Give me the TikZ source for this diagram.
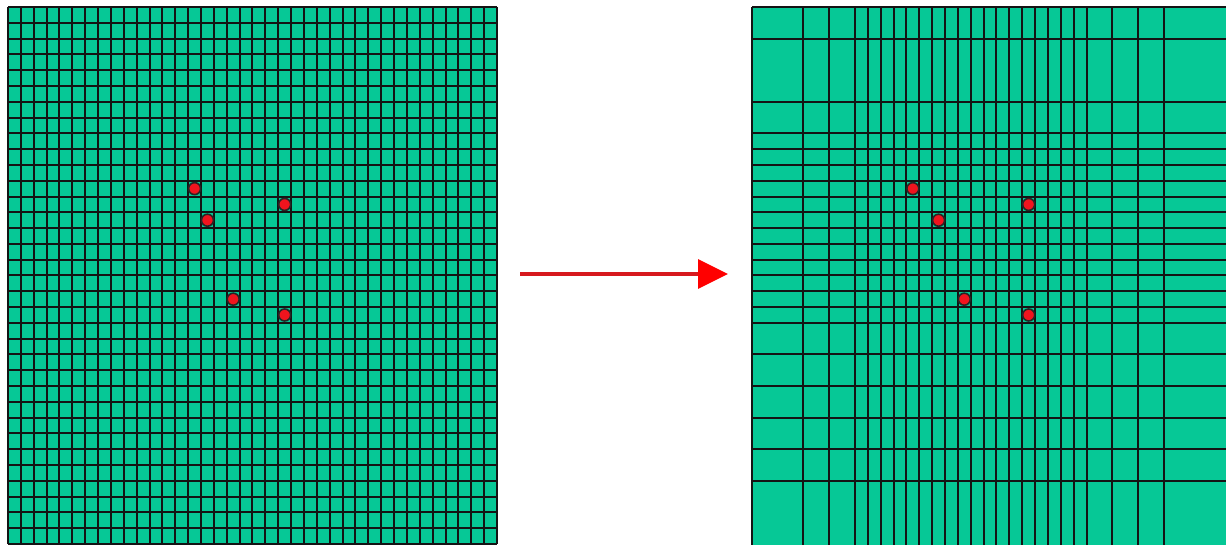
\documentclass[tikz,border=0pt]{standalone}
\usetikzlibrary{arrows.meta}
\definecolor{meshgreen}{RGB}{6,200,150}
\definecolor{arrowred}{RGB}{215,25,30}
\definecolor{dotred}{RGB}{240,20,30}
\tikzset{
  gridline/.style={line width=2pt, draw=black!92},
  meshfill/.style={fill=meshgreen},
  pointdot/.style={circle, fill=dotred, draw=black!85, line width=1.6pt, minimum size=12pt, inner sep=0pt},
  bigarrow/.style={draw=arrowred, line width=3.2pt, -{Triangle[length=30pt, width=29pt, fill=red, color=red]}}
}
\begin{document}
\begin{tikzpicture}[x=1pt, y=-1pt]
\useasboundingbox (0,0) rectangle (1226,545);
\fill[white] (0,0) rectangle (1226,545);
% ---------- left uniform mesh ----------
\fill[meshfill] (8,7) rectangle (497,544);
\foreach \k in {0,...,38} {
  \pgfmathsetmacro{\xx}{round(8+\k*12.868)}
  \draw[gridline] (\xx,7) -- (\xx,544);
}
\foreach \k in {0,...,34} {
  \pgfmathsetmacro{\yy}{round(7+\k*15.794)}
  \draw[gridline] (8,\yy) -- (497,\yy);
}
\node[pointdot] (l1) at ({8+14.5*12.868},{7+11.5*15.794}) {};
\node[pointdot] (l2) at ({8+15.5*12.868},{7+13.5*15.794}) {};
\node[pointdot] (l3) at ({8+21.5*12.868},{7+12.5*15.794}) {};
\node[pointdot] (l4) at ({8+17.5*12.868},{7+18.5*15.794}) {};
\node[pointdot] (l5) at ({8+21.5*12.868},{7+19.5*15.794}) {};
% ---------- right adapted mesh ----------
\begin{scope}
\clip (0,0) rectangle (1226,545);
\fill[meshfill] (752,7) rectangle (1241,550);
\foreach \k in {0,4,6,8,9,...,26,28,30,32,38} {
  \pgfmathsetmacro{\xx}{round(752+\k*12.868)}
  \draw[gridline] (\xx,7) -- (\xx,550);
}
\foreach \k in {0,2,6,8,9,...,20,22,24,26,28,30} {
  \pgfmathsetmacro{\yy}{round(7+\k*15.794)}
  \draw[gridline] (752,\yy) -- (1241,\yy);
}
\end{scope}
\node[pointdot] (r1) at ({752+12.5*12.868},{7+11.5*15.794}) {};
\node[pointdot] (r2) at ({752+14.5*12.868},{7+13.5*15.794}) {};
\node[pointdot] (r3) at ({752+21.5*12.868},{7+12.5*15.794}) {};
\node[pointdot] (r4) at ({752+16.5*12.868},{7+18.5*15.794}) {};
\node[pointdot] (r5) at ({752+21.5*12.868},{7+19.5*15.794}) {};
% ---------- arrow ----------
\coordinate (astart) at (520,274);
\coordinate (aend) at (728,274);
\draw[bigarrow] (astart) -- (aend);
\end{tikzpicture}
\end{document}
